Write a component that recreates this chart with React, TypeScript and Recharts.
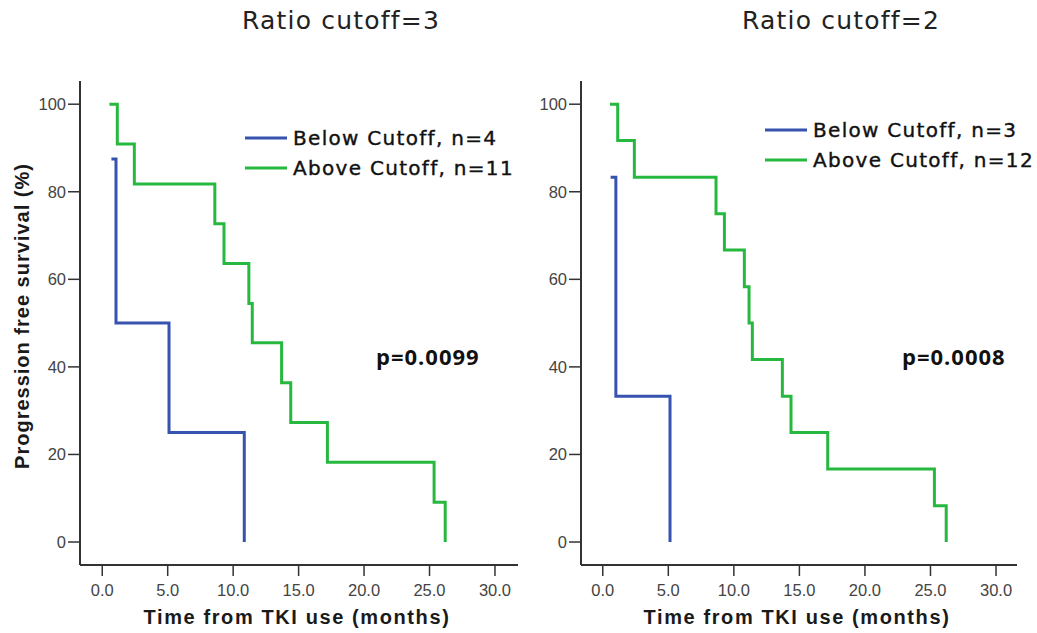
import { Legend, Line, LineChart, XAxis, YAxis } from "recharts";

// Kaplan-Meier step curves (time in months, survival in %).
const LEFT_BELOW_T = [0.7, 1.05, 5.1, 10.85];
const LEFT_BELOW_S = [87.5, 50, 25, 0];
const LEFT_ABOVE_T = [0.55, 1.15, 2.45, 8.6, 9.3, 11.2, 11.46, 13.7, 14.4, 17.2, 25.35, 26.2];
const LEFT_ABOVE_S = [100, 90.9, 81.8, 72.7, 63.6, 54.5, 45.5, 36.4, 27.3, 18.2, 9.1, 0];

const RIGHT_BELOW_T = [0.6, 1.0, 5.13];
const RIGHT_BELOW_S = [83.3, 33.3, 0];
const RIGHT_ABOVE_T = [0.55, 1.14, 2.41, 8.64, 9.28, 10.8, 11.16, 11.41, 13.7, 14.36, 17.16, 25.3, 26.2];
const RIGHT_ABOVE_S = [100, 91.7, 83.3, 75, 66.7, 58.3, 50, 41.7, 33.3, 25, 16.7, 8.3, 0];

const X_TICKS = [0, 5, 10, 15, 20, 25, 30];
const Y_TICKS = [0, 20, 40, 60, 80, 100];

const BLUE = "#3653b0";
const GREEN = "#27b83f";
const AXIS = "#333";
const TICK_STYLE = { fill: "#444", fontSize: 16.5, fontFamily: "Liberation Sans, Arial, sans-serif" };
const LABEL_FONT = "Liberation Sans, Arial, sans-serif";

const toPoints = (t: number[], s: number[]) => t.map((v, i) => ({ t: v, s: s[i] }));

// Below-cutoff row first, as in the figure (recharts 3 sorts legend items by name).
function LegendBox({ payload }: { payload?: Array<{ value: string; color: string }> }) {
  if (!payload) return null;
  const rows = [...payload].sort((a, b) => (a.value.startsWith("Below") ? -1 : 0) - (b.value.startsWith("Below") ? -1 : 0));
  return (
    <div>
      {rows.map((p) => (
        <div key={p.value} style={{ display: "flex", alignItems: "center", height: 30 }}>
          <svg width={42} height={4} style={{ display: "block" }}>
            <line x1={0} y1={2} x2={42} y2={2} stroke={p.color} strokeWidth={3} />
          </svg>
          <span
            style={{
              marginLeft: 6,
              fontFamily: "DejaVu Sans, sans-serif",
              fontSize: 20,
              color: "#111",
              whiteSpace: "nowrap",
              letterSpacing: 1.3,
              WebkitTextStroke: "0.4px #111",
            }}
          >
            {p.value}
          </span>
        </div>
      ))}
    </div>
  );
}

function KMPanel({
  below,
  above,
  belowName,
  aboveName,
  xDomain,
  width,
  marginLeft,
  yAxisWidth,
  legendTop,
}: {
  below: { t: number; s: number }[];
  above: { t: number; s: number }[];
  belowName: string;
  aboveName: string;
  xDomain: [number, number];
  width: number;
  marginLeft: number;
  yAxisWidth: number;
  legendTop: number;
}) {
  return (
    <LineChart width={width} height={633} margin={{ top: 81, right: 3, bottom: 28, left: marginLeft }}>
      <XAxis
        type="number"
        dataKey="t"
        domain={xDomain}
        ticks={X_TICKS}
        allowDataOverflow
        tickFormatter={(v: number) => v.toFixed(1)}
        tick={TICK_STYLE}
        tickSize={11}
        tickMargin={8}
        height={40}
        axisLine={{ stroke: AXIS, strokeWidth: 2 }}
        tickLine={{ stroke: AXIS, strokeWidth: 1.5 }}
      />
      <YAxis
        type="number"
        dataKey="s"
        domain={[-5.25, 105.3]}
        ticks={Y_TICKS}
        allowDataOverflow
        tick={TICK_STYLE}
        tickSize={12}
        tickMargin={2}
        width={yAxisWidth}
        axisLine={{ stroke: AXIS, strokeWidth: 2 }}
        tickLine={{ stroke: AXIS, strokeWidth: 1.5 }}
      />
      <Legend
        layout="vertical"
        verticalAlign="middle"
        align="center"
        content={<LegendBox />}
        wrapperStyle={{ position: "absolute", top: legendTop, left: 245, width: "auto", height: "auto" }}
      />
      <Line
        data={below}
        dataKey="s"
        name={belowName}
        type="stepAfter"
        stroke={BLUE}
        strokeWidth={3}
        dot={false}
        isAnimationActive={false}
      />
      <Line
        data={above}
        dataKey="s"
        name={aboveName}
        type="stepAfter"
        stroke={GREEN}
        strokeWidth={3}
        dot={false}
        isAnimationActive={false}
      />
    </LineChart>
  );
}

const titleStyle = {
  position: "absolute" as const,
  top: 6,
  width: 300,
  textAlign: "center" as const,
  fontFamily: "DejaVu Sans, sans-serif",
  fontSize: 25,
  letterSpacing: 1.2,
  color: "#222",
};

const xLabelStyle = {
  position: "absolute" as const,
  top: 606,
  width: 360,
  textAlign: "center" as const,
  fontFamily: LABEL_FONT,
  fontWeight: 700,
  fontSize: 20,
  letterSpacing: 1.6,
  color: "#1a1a1a",
};

const pStyle = {
  position: "absolute" as const,
  top: 341,
  fontFamily: "Open Sans, sans-serif",
  fontWeight: 700,
  fontSize: 22,
  letterSpacing: 1,
  color: "#111",
};

export default function App() {
  return (
    <div style={{ position: "absolute", left: 0, top: 0, width: 1037, height: 633, background: "#fff", overflow: "hidden" }}>
      <div style={{ position: "absolute", left: 0, top: 0 }}>
        <KMPanel
          below={toPoints(LEFT_BELOW_T, LEFT_BELOW_S)}
          above={toPoints(LEFT_ABOVE_T, LEFT_ABOVE_S)}
          belowName="Below Cutoff, n=4"
          aboveName="Above Cutoff, n=11"
          xDomain={[-1.7, 31.76]}
          width={521}
          marginLeft={20}
          yAxisWidth={60}
          legendTop={123}
        />
      </div>
      <div style={{ position: "absolute", left: 520, top: 0 }}>
        <KMPanel
          below={toPoints(RIGHT_BELOW_T, RIGHT_BELOW_S)}
          above={toPoints(RIGHT_ABOVE_T, RIGHT_ABOVE_S)}
          belowName="Below Cutoff, n=3"
          aboveName="Above Cutoff, n=12"
          xDomain={[-1.66, 31.6]}
          width={500}
          marginLeft={6}
          yAxisWidth={55}
          legendTop={115}
        />
      </div>

      <div style={{ ...titleStyle, left: 191 }}>Ratio cutoff=3</div>
      <div style={{ ...titleStyle, left: 691 }}>Ratio cutoff=2</div>

      <div style={{ ...xLabelStyle, left: 117 }}>Time from TKI use (months)</div>
      <div style={{ ...xLabelStyle, left: 617 }}>Time from TKI use (months)</div>

      <div
        style={{
          position: "absolute",
          left: 22,
          top: 316,
          transform: "translate(-50%, -50%) rotate(-90deg)",
          fontFamily: LABEL_FONT,
          fontWeight: 700,
          fontSize: 20,
          letterSpacing: 1,
          color: "#1a1a1a",
          whiteSpace: "nowrap",
        }}
      >
        Progression free survival (%)
      </div>

      <div style={{ ...pStyle, left: 376 }}>p=0.0099</div>
      <div style={{ ...pStyle, left: 902 }}>p=0.0008</div>
    </div>
  );
}
